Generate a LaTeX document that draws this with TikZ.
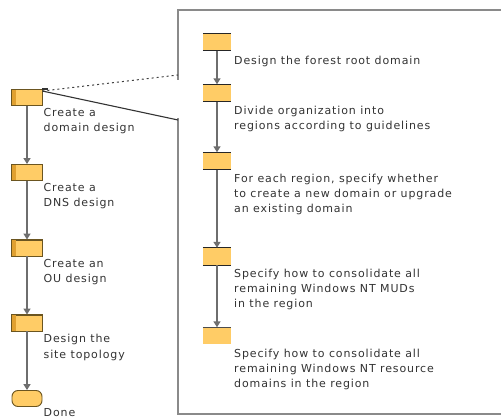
\documentclass[tikz,border=0pt]{standalone}
\usepackage{fontspec}
\setmainfont{DejaVu Sans}
\newfontfamily\lblfont[LetterSpace=8]{DejaVu Sans}
\usetikzlibrary{arrows.meta}
\definecolor{boxfill}{HTML}{FFCC66}
\definecolor{stripe}{HTML}{E0A030}
\definecolor{boxline}{HTML}{6B5520}
\definecolor{conn}{HTML}{6E6E6E}
\definecolor{framec}{HTML}{8A8A8A}
\tikzset{
  lbox/.style={draw=boxline, line width=0.9pt, fill=boxfill, minimum width=30pt, minimum height=16pt, inner sep=0pt},
  rbox/.style={fill=boxfill, minimum width=28pt, minimum height=17pt, inner sep=0pt},
  lbl/.style={anchor=north west, inner sep=0pt, align=left, font=\lblfont\fontsize{11}{15.5}\selectfont, text=black!80},
  rlbl/.style={anchor=north west, inner sep=0pt, align=left, font=\lblfont\fontsize{11}{15}\selectfont, text=black!80},
  flow/.style={draw=conn, line width=1.6pt, -{Triangle[length=6pt,width=7pt]}},
}
\begin{document}
\begin{tikzpicture}[x=1pt,y=-1pt]
\useasboundingbox (0,0) rectangle (501,419);
\fill[white] (0,0) rectangle (501,419);
% frame
\draw[framec, line width=1.3pt] (178,80) -- (178,10) -- (505,10);
\draw[framec, line width=1.3pt] (178,118) -- (178,414) -- (505,414);
% left boxes
\node[lbox] (L1) at (27,97.5) {};
\node[lbox] (L2) at (27,172.5) {};
\node[lbox] (L3) at (27,248) {};
\node[lbox] (L4) at (27,323) {};
\node[lbox, rounded corners=6pt] (L5) at (27,398.5) {};
\foreach \n in {L1,L2,L3,L4}{
  \fill[stripe] ([xshift=0.5pt,yshift=-0.5pt]\n.north west) rectangle ([xshift=4pt,yshift=0.5pt]\n.south west);
  \draw[boxline, line width=0.9pt] (\n.north west) rectangle (\n.south east);
}
\draw[flow] (L1.south) -- (L2.north);
\draw[flow] (L2.south) -- (L3.north);
\draw[flow] (L3.south) -- (L4.north);
\draw[flow] (L4.south) -- (L5.north);
% zoom connectors
\coordinate (zt) at (178,75);
\coordinate (zb) at (178,120);
\draw[black!75, line width=1pt, dash pattern=on 2pt off 3pt] ([yshift=-2pt]L1.north east) -- (zt);
\draw[black!80, line width=1.1pt] ([yshift=-2pt]L1.north east) -- (zb);
\draw[black!80, line width=1.6pt] (L1.north east) -- ++(6,0);
% left labels
\node[lbl] (t1) at (43.5,108) {Create a\\domain design};
\node[lbl] (t2) at (43.5,183) {Create a\\DNS design};
\node[lbl] (t3) at (43.5,259) {Create an\\OU design};
\node[lbl] (t4) at (43.5,334) {Design the\\site topology};
\node[lbl] (t5) at (43.5,408) {Done};
% right boxes
\node[rbox] (R1) at (217,42) {};
\node[rbox] (R2) at (217,93) {};
\node[rbox] (R3) at (217,161) {};
\node[rbox] (R4) at (217,256.5) {};
\node[rbox] (R5) at (217,336) {};
\foreach \n in {R1,R2,R3,R4}{
  \draw[black!85, line width=1.2pt] (\n.north west) -- (\n.north east);
  \draw[black!85, line width=1.2pt] (\n.south west) -- (\n.south east);
}
\draw[black!70, line width=1.2pt] (R5.north west) -- (R5.north east);
\draw[flow] (R1.south) -- (R2.north);
\draw[flow] (R2.south) -- (R3.north);
\draw[flow] (R3.south) -- (R4.north);
\draw[flow] (R4.south) -- (R5.north);
% right labels
\node[rlbl] (s1) at (234,56) {Design the forest root domain};
\node[rlbl] (s2) at (234,106) {Divide organization into\\regions according to guidelines};
\node[rlbl] (s3) at (234,174) {For each region, specify whether\\to create a new domain or upgrade\\an existing domain};
\node[rlbl] (s4) at (234,269) {Specify how to consolidate all\\remaining Windows NT MUDs\\in the region};
\node[rlbl] (s5) at (234,349) {Specify how to consolidate all\\remaining Windows NT resource\\domains in the region};
\end{tikzpicture}
\end{document}
